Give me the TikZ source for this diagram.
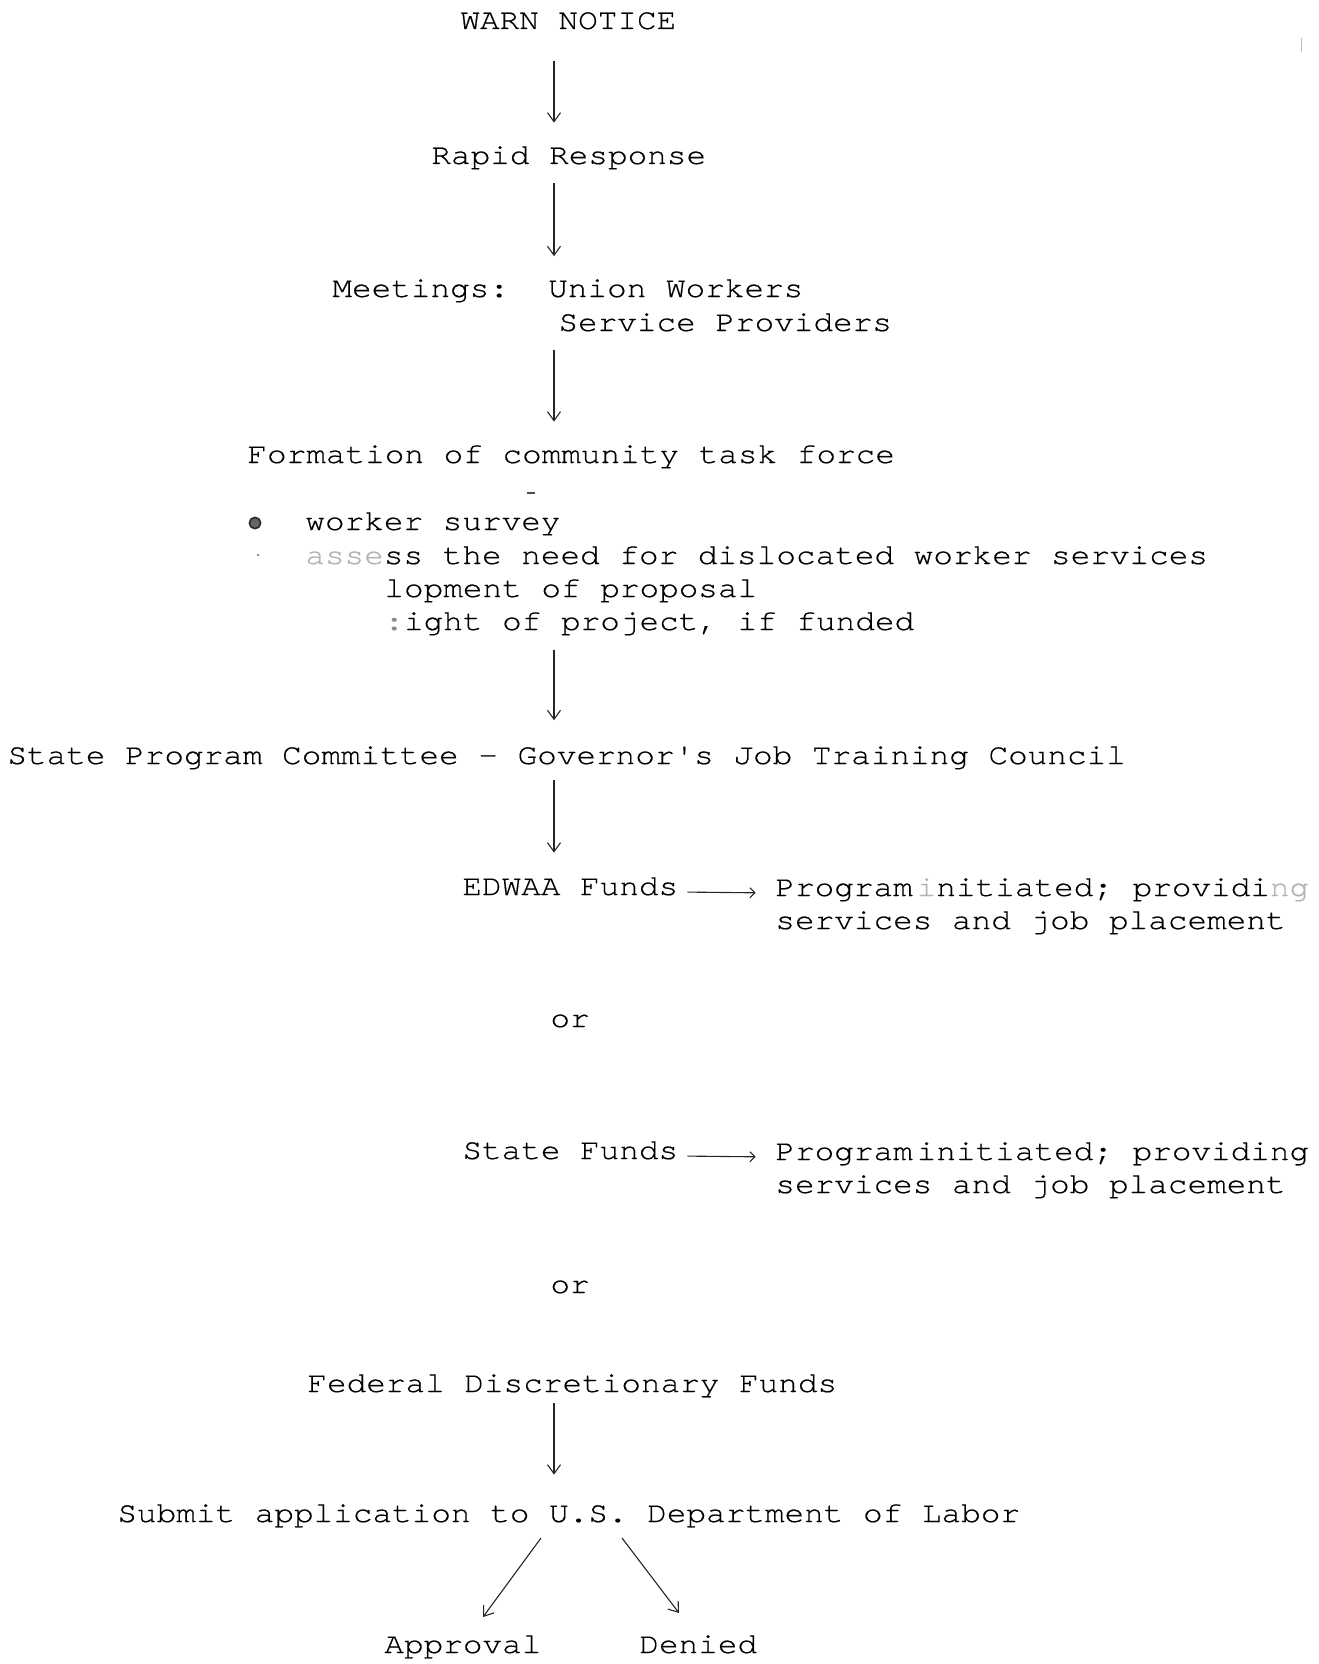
\documentclass[tikz,border=0pt]{standalone}
\usepackage{fontspec}
\setmonofont{texgyrecursor-regular.otf}[FakeStretch=1.12,FakeBold=0.4]
\usetikzlibrary{arrows.meta}
\begin{document}
\begin{tikzpicture}[x=0.5pt,y=-0.5pt,
  txt/.style={anchor=base west, inner sep=0pt, text height=8.2pt, text depth=0pt,
    font={\ttfamily\fontsize{14.6pt}{16pt}\selectfont}},
  arr/.style={draw=black!85, line width=0.55pt, -{Straight Barb[length=4.5pt,width=6.5pt]}},
  harr/.style={draw=black!85, line width=0.55pt, -{Straight Barb[length=2.5pt,width=5pt]}}]
\useasboundingbox (0,0) rectangle (1318,1664);
\fill[white] (0,0) rectangle (1318,1664);

\coordinate (sp) at (554,0);

\node[txt] (warn)  at (460,29)   {WARN NOTICE};
\node[txt] (rapid) at (431,164)  {Rapid Response};
\node[txt] (meet)  at (332,297)  {Meetings:\ \ Union Workers};
\node[txt] (serv)  at (558,331)  {Service Providers};
\node[txt] (form)  at (247,463)  {Formation of community task force};
\node[txt] (b1)    at (305,530)  {worker survey};
\node[txt] (b2)    at (305,564)  {{\color{black!30}asse}ss the need for dislocated worker services};
\node[txt] (b3)    at (384,597)  {lopment of proposal};
\node[txt] (b4)    at (384,630)  {{\color{black!45}:}ight of project, if funded};
\node[txt] (spc)   at (7,764)    {State Program Committee - Governor's Job Training Council};
\node[txt] (edwaa) at (462,895)  {EDWAA Funds};
\node[txt] (prog1) at (775,896)  {Program\hspace{2pt}{\color{black!30}i}nitiated; providi{\color{black!30}ng}};
\node[txt] (serv1) at (775,929)  {services and job placement};
\node[txt] (or1)   at (550,1027) {or};
\node[txt] (state) at (462,1159) {State Funds};
\node[txt] (prog2) at (775,1160) {Program\hspace{2pt}initiated; providing};
\node[txt] (serv2) at (775,1193) {services and job placement};
\node[txt] (or2)   at (550,1293) {or};
\node[txt] (fed)   at (307,1392) {Federal Discretionary Funds};
\node[txt] (sub)   at (117,1522) {Submit application to U.S. Department of Labor};
\node[txt] (appr)  at (384,1653) {Approval};
\node[txt] (den)   at (639,1653) {Denied};

% vertical connectors
\draw[arr, shorten <=16pt,   shorten >=12.3pt] (warn.south -| sp)  -- (rapid.north -| sp);
\draw[arr, shorten <=9.25pt, shorten >=12pt]   (rapid.south -| sp) -- (meet.north -| sp);
\draw[arr, shorten <=9.5pt,  shorten >=12.3pt] (serv.south -| sp)  -- (form.north -| sp);
\draw[arr, shorten <=9.75pt, shorten >=13.5pt] (b4.south -| sp)    -- (spc.north -| sp);
\draw[arr, shorten <=8pt,    shorten >=12.8pt] (spc.south -| sp)   -- (edwaa.north -| sp);
\draw[arr, shorten <=5.5pt,  shorten >=15.3pt] (fed.south -| sp)   -- (sub.north -| sp);

% horizontal connectors
\draw[harr, shorten <=4.4pt, shorten >=9.7pt] ([yshift=1.5pt]edwaa.base east) -- ([yshift=1.5pt]prog1.base west);
\draw[harr, shorten <=4.4pt, shorten >=9.7pt] ([yshift=1.5pt]state.base east) -- ([yshift=1.5pt]prog2.base west);

% diagonal connectors
\coordinate (d1s) at (541,1538);
\coordinate (d1e) at (483,1617);
\coordinate (d2s) at (622,1538);
\coordinate (d2e) at (679,1613);
\draw[arr] (d1s) -- (d1e);
\draw[arr] (d2s) -- (d2e);

% marks
\fill[black!60] (255,523) circle (6.2);
\draw[black!85, line width=0.7pt] (255,523) circle (5.6);
\draw[black!70, line width=0.6pt] (527,493) -- (535,493);
\fill[black!60] (258,555) circle (1.2);
\draw[black!25, line width=0.4pt] (1301,38) -- (1301,52);
\end{tikzpicture}
\end{document}
